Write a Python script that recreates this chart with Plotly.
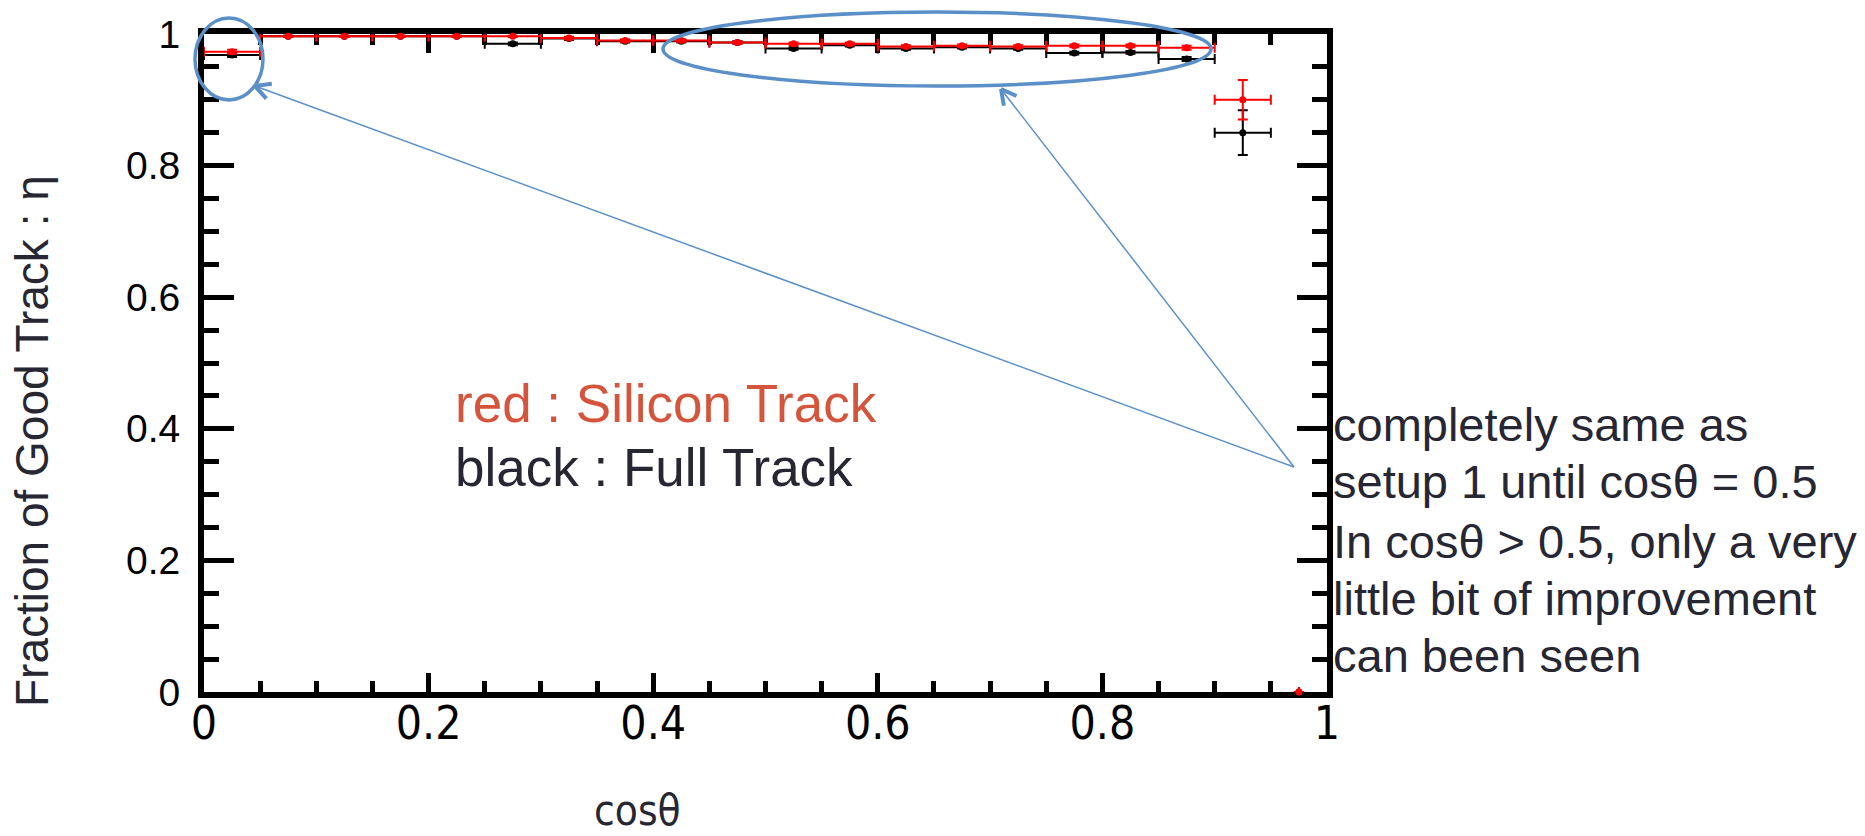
import numpy as np
import plotly.graph_objects as go

# ---------------- data ----------------
bin_centers = [0.025, 0.075, 0.125, 0.175, 0.225, 0.275, 0.325, 0.375, 0.425, 0.475,
               0.525, 0.575, 0.625, 0.675, 0.725, 0.775, 0.825, 0.875, 0.925, 0.975]
bin_half_width = [0.025] * 19 + [0.0]

silicon_eff = [0.973, 0.9965, 0.9965, 0.9965, 0.9965, 0.9965, 0.994, 0.990, 0.990, 0.987,
               0.985, 0.985, 0.981, 0.982, 0.981, 0.982, 0.982, 0.979, 0.900, 0.0]
silicon_err = [0.003, 0.001, 0.001, 0.001, 0.001, 0.001, 0.002, 0.002, 0.002, 0.002,
               0.002, 0.002, 0.002, 0.002, 0.002, 0.002, 0.002, 0.003, 0.030, 0.0]

full_eff = [0.968, 0.9965, 0.9965, 0.9965, 0.9965, 0.985, 0.993, 0.989, 0.989, 0.987,
            0.978, 0.983, 0.978, 0.980, 0.978, 0.971, 0.972, 0.962, 0.850, 0.0]
full_err = [0.003, 0.001, 0.001, 0.001, 0.001, 0.002, 0.002, 0.002, 0.002, 0.002,
            0.002, 0.002, 0.002, 0.002, 0.002, 0.002, 0.002, 0.003, 0.034, 0.0]

x_tick_vals = [0, 0.2, 0.4, 0.6, 0.8, 1.0]
x_tick_text = ["0", "0.2", "0.4", "0.6", "0.8", "1"]
y_tick_vals = [0, 0.2, 0.4, 0.6, 0.8, 1.0]
y_tick_text = ["0", "0.2", "0.4", "0.6", "0.8", "1"]

x_title = "cosθ"
y_title = "Fraction of Good Track : η"
legend_lines = [("red : Silicon Track", "#d4553c"), ("black : Full Track", "#272733")]
note_lines = ["completely same as",
              "setup 1 until cosθ = 0.5",
              "In cosθ > 0.5, only a very",
              "little bit of improvement",
              "can been seen"]

# ---------------- geometry ----------------
W, H = 1865, 836
ML, MR, MT, MB = 204, 538, 34, 144
PW = W - ML - MR
PH = H - MT - MB


def px2paper(px, py):
    return (px - ML) / PW, (H - MB - py) / PH


NARROW = "Liberation Sans Narrow, DejaVu Sans Condensed, Arial Narrow, sans-serif"
ARIAL = "Liberation Sans, Arial, Helvetica, sans-serif"
TXT = "#272733"
BLUE = "#5b8fc8"

fig = go.Figure()

for eff, err, col in [(full_eff, full_err, "black"), (silicon_eff, silicon_err, "red")]:
    fig.add_trace(go.Scatter(
        x=bin_centers, y=eff, mode="markers",
        marker=dict(color=col, size=7, symbol="circle"),
        error_x=dict(type="data", array=bin_half_width, color=col, thickness=2, width=5),
        error_y=dict(type="data", array=err, color=col, thickness=2, width=5),
        cliponaxis=False, showlegend=False, hoverinfo="skip"))

axis_common = dict(range=[0, 1], showgrid=False, zeroline=False, showline=True,
                   linecolor="black", linewidth=6, mirror="allticks",
                   ticks="inside", tickcolor="black", tickwidth=4.5,
                   layer="below traces")

fig.update_xaxes(**axis_common, tickvals=x_tick_vals, ticktext=x_tick_text, ticklen=19,
                 minor=dict(dtick=0.05, ticks="inside", ticklen=11, tickwidth=4.5, tickcolor="black"),
                 tickfont=dict(family=NARROW, size=46, color="black"), ticklabelstandoff=-14)
fig.update_yaxes(**axis_common, tickvals=y_tick_vals, ticktext=y_tick_text, ticklen=30,
                 minor=dict(dtick=0.05, ticks="inside", ticklen=15, tickwidth=4.5, tickcolor="black"),
                 tickfont=dict(family=ARIAL, size=39, color="black"), ticklabelstandoff=10)

annotations = []
# axis titles
ax_, ay_ = px2paper(637, 810)
annotations.append(dict(text=x_title, x=ax_, y=ay_, xref="paper", yref="paper", showarrow=False,
                        xanchor="center", yanchor="middle", font=dict(family=NARROW, size=42, color=TXT)))
ax_, ay_ = px2paper(32, 441)
annotations.append(dict(text=y_title, x=ax_, y=ay_, xref="paper", yref="paper", showarrow=False,
                        textangle=-90, xanchor="center", yanchor="middle",
                        font=dict(family=ARIAL, size=46, color=TXT)))
# legend-like text
for (txt, col), cy in zip(legend_lines, [404, 468]):
    ax_, ay_ = px2paper(453, cy)
    annotations.append(dict(text=txt, x=ax_, y=ay_, xref="paper", yref="paper", showarrow=False,
                            xanchor="left", yanchor="middle", font=dict(family=ARIAL, size=53, color=col)))
# note on right
for txt, cy in zip(note_lines, [425, 481, 541, 598, 655]):
    ax_, ay_ = px2paper(1331, cy)
    annotations.append(dict(text=txt, x=ax_, y=ay_, xref="paper", yref="paper", showarrow=False,
                            xanchor="left", yanchor="middle", font=dict(family=ARIAL, size=47, color=TXT)))

shapes = []
# ellipses (pixel boxes -> paper)
for (x0, y0, x1, y1) in [(195, 18, 263, 100), (663, 12, 1211, 86)]:
    a0, b0 = px2paper(x0, y1)
    a1, b1 = px2paper(x1, y0)
    shapes.append(dict(type="circle", xref="paper", yref="paper", x0=a0, y0=b0, x1=a1, y1=b1,
                       line=dict(color=BLUE, width=3.5)))

# arrows
start = np.array([1294.0, 467.0])
for tip in [np.array([255.0, 86.0]), np.array([1001.0, 89.0])]:
    s0 = px2paper(*start)
    t0 = px2paper(*tip)
    shapes.append(dict(type="line", xref="paper", yref="paper", x0=s0[0], y0=s0[1], x1=t0[0], y1=t0[1],
                       line=dict(color=BLUE, width=1.5)))
    d = (start - tip) / np.linalg.norm(start - tip)
    for ang in [np.radians(28), -np.radians(28)]:
        rot = np.array([[np.cos(ang), -np.sin(ang)], [np.sin(ang), np.cos(ang)]])
        end = tip + 17 * rot.dot(d)
        e0 = px2paper(*end)
        shapes.append(dict(type="line", xref="paper", yref="paper", x0=t0[0], y0=t0[1], x1=e0[0], y1=e0[1],
                           line=dict(color=BLUE, width=4)))

fig.update_layout(width=W, height=H, margin=dict(l=ML, r=MR, t=MT, b=MB, pad=0),
                  paper_bgcolor="white", plot_bgcolor="white",
                  annotations=annotations, shapes=shapes, showlegend=False)

fig.write_html("out.html")
